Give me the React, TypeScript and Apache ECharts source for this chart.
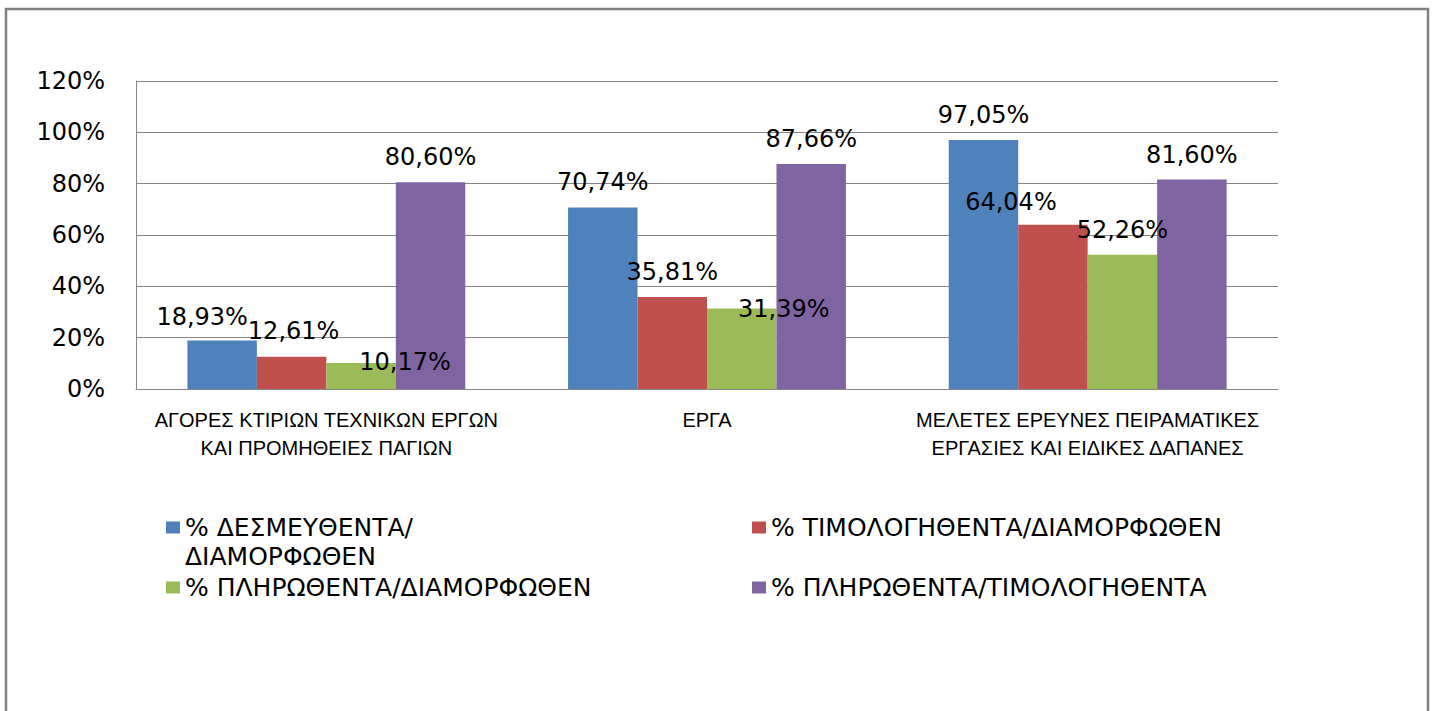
import React, { useEffect, useRef } from "react";
import * as echarts from "echarts";

const categories = [
  "ΑΓΟΡΕΣ ΚΤΙΡΙΩΝ ΤΕΧΝΙΚΩΝ ΕΡΓΩΝ\nΚΑΙ ΠΡΟΜΗΘΕΙΕΣ ΠΑΓΙΩΝ",
  "ΕΡΓΑ",
  "ΜΕΛΕΤΕΣ ΕΡΕΥΝΕΣ ΠΕΙΡΑΜΑΤΙΚΕΣ\nΕΡΓΑΣΙΕΣ ΚΑΙ ΕΙΔΙΚΕΣ ΔΑΠΑΝΕΣ",
];

const seriesNames = [
  "% ΔΕΣΜΕΥΘΕΝΤΑ/ΔΙΑΜΟΡΦΩΘΕΝ",
  "% ΤΙΜΟΛΟΓΗΘΕΝΤΑ/ΔΙΑΜΟΡΦΩΘΕΝ",
  "% ΠΛΗΡΩΘΕΝΤΑ/ΔΙΑΜΟΡΦΩΘΕΝ",
  "% ΠΛΗΡΩΘΕΝΤΑ/ΤΙΜΟΛΟΓΗΘΕΝΤΑ",
];

const desmeuthenta = [18.93, 70.74, 97.05];
const timologithenta = [12.61, 35.81, 64.04];
const plirothentaDiam = [10.17, 31.39, 52.26];
const plirothentaTim = [80.6, 87.66, 81.6];

const yTicks = { min: 0, max: 120, interval: 20 };

const colors = ["#4F81BD", "#C0504D", "#9BBB59", "#8064A2"];

// label nudges (Excel collision placement), [dx, dy] per series per category
const labelNudges: number[][][] = [
  [[-20, 2], [0, 0], [0, 0]],
  [[2, -1], [0, 0], [-42, 2]],
  [[44, 24], [42, 26], [0, 0]],
  [[0, 0], [0, 0], [0, 0]],
];

const fmt = (v: number) => v.toFixed(2).replace(".", ",") + "%";

export default function App() {
  const ref = useRef<HTMLDivElement>(null);
  useEffect(() => {
    document.body.style.margin = "0";
    if (!ref.current) return;
    const chart = echarts.init(ref.current, null, { renderer: "svg" });
    const values = [desmeuthenta, timologithenta, plirothentaDiam, plirothentaTim];
    const gridColor = "#868686";
    const legendFont = {
      fontFamily: "DejaVu Sans",
      fontSize: 25,
      color: "#000",
      lineHeight: 29,
    };
    const legendPos = [
      { left: 166, top: 484 },
      { left: 752, top: 513 },
      { left: 166, top: 573 },
      { left: 752, top: 573 },
    ];
    const option: any = {
      animation: false,
      backgroundColor: "#fff",
      color: colors,
      graphic: [
        {
          type: "rect",
          shape: { x: 6, y: 9, width: 1422, height: 800 },
          style: { fill: "none", stroke: "#7f7f7f", lineWidth: 2.5 },
          silent: true,
        },
      ],
      grid: {
        left: 136,
        right: 156,
        top: 81,
        bottom: 322,
        containLabel: false,
        outerBoundsMode: "none",
      },
      legend: seriesNames.map((n, i) => ({
        data: [n],
        left: legendPos[i].left,
        top: legendPos[i].top,
        padding: 0,
        icon: "rect",
        itemWidth: 14,
        itemHeight: 12,
        itemGap: 8,
        selectedMode: false,
        formatter:
          i === 0 ? () => " \n% ΔΕΣΜΕΥΘΕΝΤΑ/\nΔΙΑΜΟΡΦΩΘΕΝ" : (name: string) => name,
        textStyle: { ...legendFont },
      })),
      xAxis: {
        type: "category",
        data: categories,
        axisTick: { show: false },
        axisLine: { lineStyle: { color: gridColor, width: 1 } },
        axisLabel: {
          interval: 0,
          margin: 17,
          fontFamily: "Liberation Sans",
          fontSize: 20,
          lineHeight: 28,
          color: "#000",
        },
      },
      yAxis: {
        type: "value",
        min: yTicks.min,
        max: yTicks.max,
        interval: yTicks.interval,
        axisLine: { show: true, lineStyle: { color: gridColor, width: 1 } },
        axisTick: { show: false },
        splitLine: { lineStyle: { color: gridColor, width: 1 } },
        axisLabel: {
          formatter: "{value}%",
          margin: 31,
          fontFamily: "DejaVu Sans",
          fontSize: 24,
          color: "#000",
        },
      },
      series: values.map((vals, si) => ({
        type: "bar",
        name: seriesNames[si],
        barGap: "0%",
        barCategoryGap: "27%",
        data: vals.map((v, ci) => ({
          value: v,
          label: { offset: labelNudges[si][ci] },
        })),
        label: {
          show: true,
          position: "top",
          distance: 13,
          fontFamily: "DejaVu Sans",
          fontSize: 24,
          color: "#000",
          formatter: (p: any) => fmt(p.value),
        },
      })),
    };
    chart.setOption(option);
    return () => chart.dispose();
  }, []);
  return <div ref={ref} style={{ width: 1434, height: 711 }} />;
}
